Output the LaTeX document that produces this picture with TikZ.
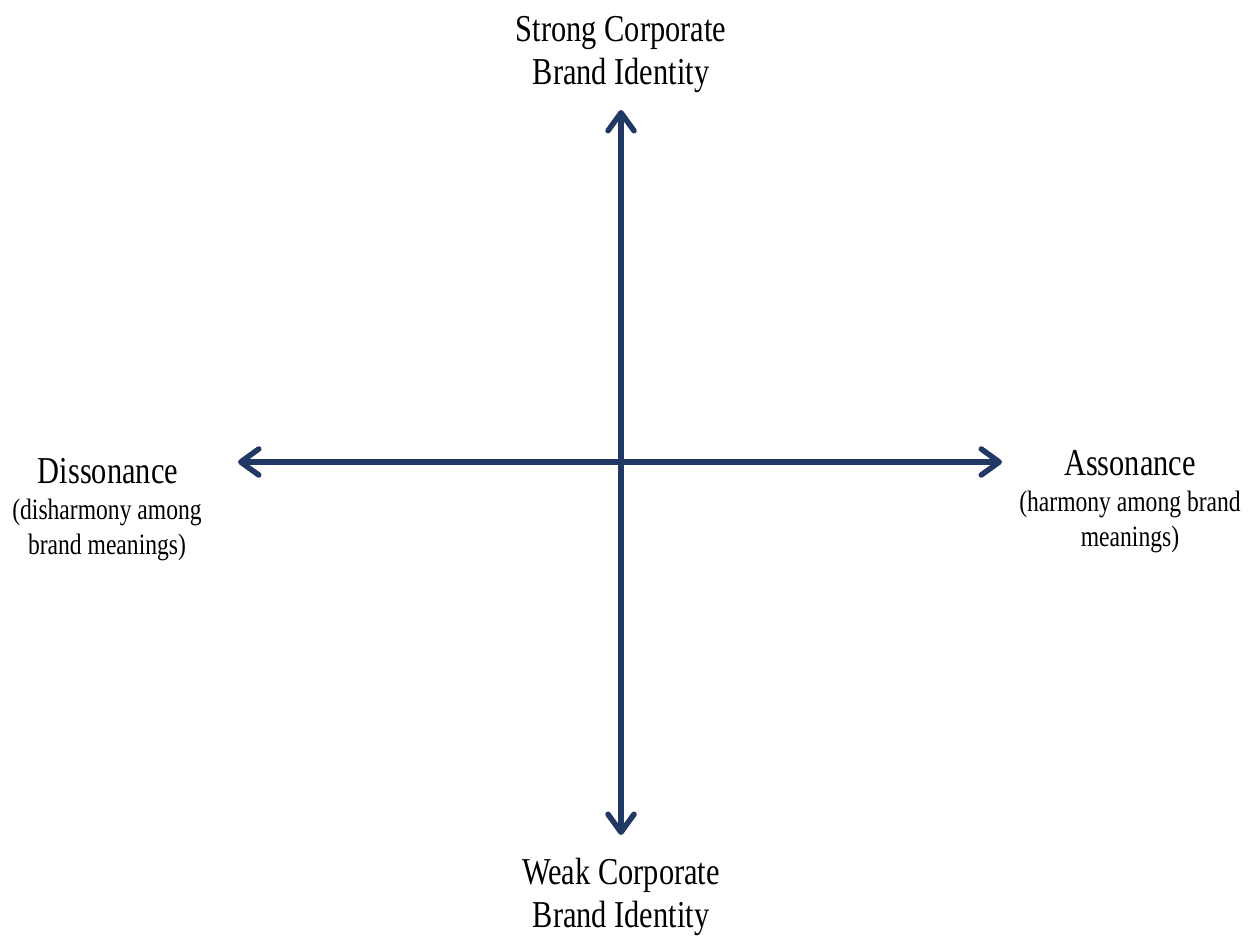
\documentclass[tikz,border=0pt]{standalone}
\usepackage{fontspec}
\setmainfont{Liberation Serif}[FakeStretch=0.8]
\usetikzlibrary{arrows.meta}
\definecolor{axisblue}{RGB}{33,56,100}
\tikzset{axistip/.tip={Straight Barb[length=18pt,width=26pt,line cap=round,line join=round]}}
\begin{document}
\begin{tikzpicture}[x=1pt,y=-1pt,
  axis/.style={draw=axisblue, line width=5.5pt, axistip-axistip},
  heading/.style={inner sep=0pt, align=center, font=\fontsize{38}{43}\selectfont},
  subheading/.style={inner sep=0pt, align=center, font=\fontsize{29.5}{35}\selectfont}]
  \useasboundingbox (0,0) rectangle (1253,936);
  % axis end points
  \coordinate (top) at (621,110);
  \coordinate (bottom) at (621,835);
  \coordinate (left) at (238,462);
  \coordinate (right) at (1002,462);
  % axes
  \draw[axis] (bottom) -- (top);
  \draw[axis] (left) -- (right);
  % pole labels
  \node[heading] (strong) at (621,55) {Strong Corporate\\Brand Identity};
  \node[heading] (weak) at (621,897) {Weak Corporate\\Brand Identity};
  \node[heading] (dis) at (108,471) {Dissonance};
  \node[subheading] (dissub) at (107,530) {(disharmony among\\brand meanings)};
  \node[heading] (ass) at (1130,463) {Assonance};
  \node[subheading] (asssub) at (1130,522) {(harmony among brand\\meanings)};
\end{tikzpicture}
\end{document}
